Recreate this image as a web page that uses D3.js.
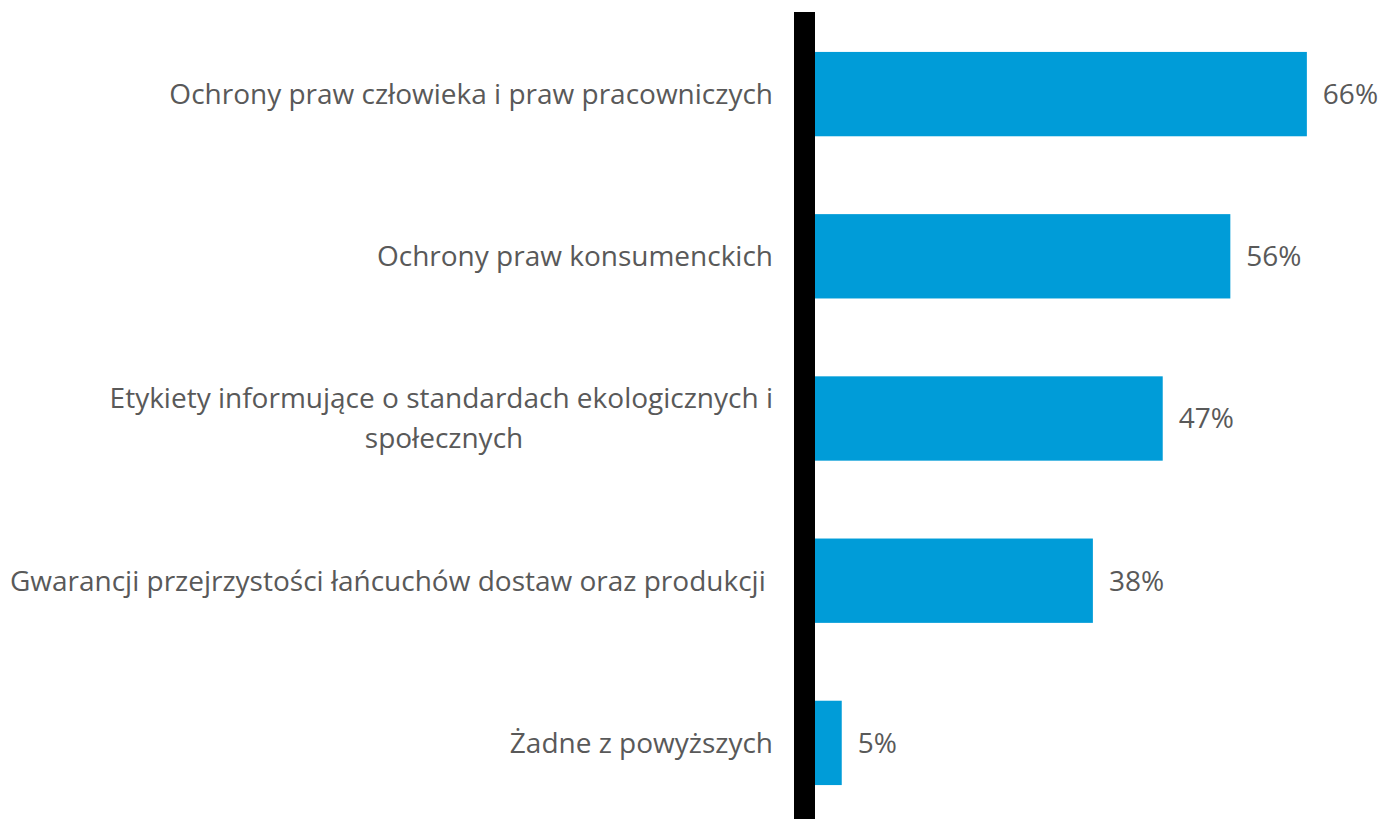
<!DOCTYPE html>
<html>
<head>
<meta charset="utf-8">
<script src="https://cdn.jsdelivr.net/npm/d3@7"></script>
<style>
  html, body { margin: 0; padding: 0; background: #fff; }
  svg { display: block; }
</style>
</head>
<body>
<main></main>
<script>
// dane z wykresu
const categories = [
  ['Ochrony praw człowieka i praw pracowniczych'],
  ['Ochrony praw konsumenckich'],
  ['Etykiety informujące o standardach ekologicznych i', 'społecznych'],
  ['Gwarancji przejrzystości łańcuchów dostaw oraz produkcji '],
  ['Żadne z powyższych']
];
// długości słupków (etykiety są zaokrąglone)
const values = [66.2, 55.9, 46.8, 37.4, 3.6];
const valueLabels = ['66%', '56%', '47%', '38%', '5%'];

const width = 1382;
const height = 819;
const x0 = 815;
const labelRight = 773;
const textColor = '#595959';
const barColor = '#009CD8';
const fontSize = '28px';

const svg = d3.select('main').append('svg')
    .attr('width', width)
    .attr('height', height);

const x = d3.scaleLinear()
    .domain([0, 100])
    .range([x0, x0 + 743]);

const y = d3.scaleBand()
    .domain(d3.range(values.length))
    .range([13, 824])
    .paddingInner(0.48)
    .paddingOuter(0.24);

svg.append('g')
  .selectAll('rect')
  .data(values)
  .enter().append('rect')
    .attr('x', x(0))
    .attr('y', (d, i) => y(i))
    .attr('width', d => x(d) - x(0))
    .attr('height', y.bandwidth())
    .attr('fill', barColor);

// gruba oś pionowa
svg.append('rect')
    .attr('x', 794)
    .attr('y', 12)
    .attr('width', x0 - 794)
    .attr('height', height)
    .attr('fill', '#000');

svg.append('g')
  .selectAll('text')
  .data(valueLabels)
  .enter().append('text')
    .attr('x', (d, i) => x(values[i]) + 16)
    .attr('y', (d, i) => y(i) + y.bandwidth() / 2)
    .attr('dy', '0.35em')
    .attr('font-family', 'Open Sans')
    .attr('font-size', fontSize)
    .attr('fill', textColor)
    .text(d => d);

const lineH = 40;
const labels = svg.append('g')
  .selectAll('text')
  .data(categories)
  .enter().append('text')
    .attr('font-family', 'Open Sans')
    .attr('font-size', fontSize)
    .attr('fill', textColor)
    .style('white-space', 'pre');

labels.each(function (lines, i) {
  const cy = y(i) + y.bandwidth() / 2;
  const off = (lines.length - 1) * lineH / 2;
  d3.select(this).selectAll('tspan')
    .data(lines)
    .enter().append('tspan')
      .attr('x', (d, j) => j > 0 ? 444 : labelRight)
      .attr('text-anchor', (d, j) => j > 0 ? 'middle' : 'end')
      .attr('y', (d, j) => cy - off + j * lineH)
      .attr('dy', '0.35em')
      .text(d => d);
});
</script>
</body>
</html>
